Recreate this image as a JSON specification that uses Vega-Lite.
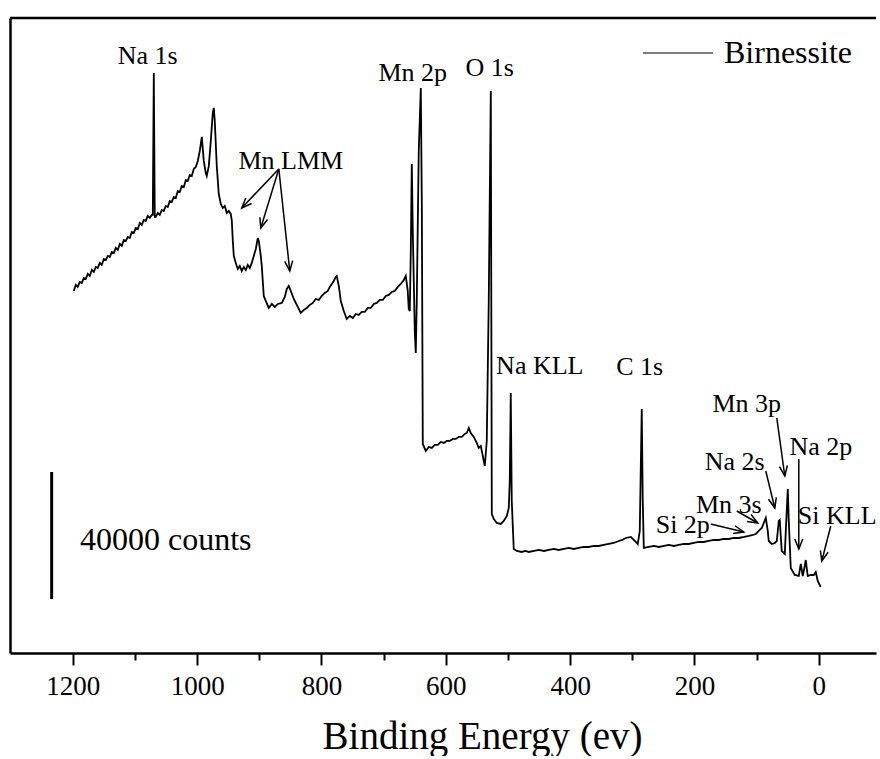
{
  "$schema": "https://vega.github.io/schema/vega-lite/v6.json",
  "width": 866,
  "height": 635,
  "padding": {"left": 8, "top": 16, "right": 0, "bottom": 0},
  "background": "white",
  "config": {"view": {"stroke": null}, "font": "Liberation Serif"},
  "datasets": {
    "spectrum": [
      {"E":1198.4,"c":114030},{"E":1195.2,"c":115920},{"E":1192.0,"c":115290},{"E":1188.7,"c":116865},{"E":1185.5,"c":116550},
      {"E":1182.3,"c":118125},{"E":1179.1,"c":117810},{"E":1175.9,"c":119385},{"E":1172.7,"c":118755},{"E":1169.4,"c":120645},
      {"E":1166.2,"c":120015},{"E":1163.0,"c":121590},{"E":1159.8,"c":121275},{"E":1156.6,"c":122850},{"E":1153.4,"c":122220},
      {"E":1150.1,"c":124110},{"E":1146.9,"c":123795},{"E":1143.7,"c":125055},{"E":1140.5,"c":124740},{"E":1137.3,"c":126315},
      {"E":1134.1,"c":126000},{"E":1130.8,"c":127575},{"E":1127.6,"c":126945},{"E":1124.4,"c":128835},{"E":1121.2,"c":128205},
      {"E":1118.0,"c":130095},{"E":1114.7,"c":129780},{"E":1111.5,"c":131040},{"E":1108.3,"c":130725},{"E":1105.1,"c":132615},
      {"E":1101.9,"c":132300},{"E":1098.7,"c":133875},{"E":1095.4,"c":133560},{"E":1092.2,"c":135450},{"E":1089.0,"c":134820},
      {"E":1085.8,"c":136395},{"E":1082.6,"c":136080},{"E":1079.4,"c":137655},{"E":1076.1,"c":137025},{"E":1072.9,"c":137970},
      {"E":1071.3,"c":137970},{"E":1069.7,"c":182700},{"E":1068.1,"c":137340},{"E":1066.5,"c":137340},{"E":1063.3,"c":138600},
      {"E":1060.1,"c":137970},{"E":1056.8,"c":139545},{"E":1053.6,"c":139230},{"E":1050.4,"c":140805},{"E":1047.2,"c":140490},
      {"E":1044.0,"c":142380},{"E":1040.8,"c":142065},{"E":1037.5,"c":143640},{"E":1034.3,"c":143325},{"E":1031.1,"c":145530},
      {"E":1027.9,"c":145215},{"E":1024.7,"c":147105},{"E":1021.4,"c":146790},{"E":1018.2,"c":148995},{"E":1015.0,"c":148680},
      {"E":1011.8,"c":150570},{"E":1008.6,"c":150255},{"E":1005.4,"c":152460},{"E":1002.2,"c":153090},{"E":998.9,"c":154980},
      {"E":995.7,"c":158130},{"E":992.5,"c":162540},{"E":989.3,"c":154980},{"E":986.1,"c":151200},{"E":984.5,"c":150255},
      {"E":981.2,"c":153405},{"E":978.0,"c":161280},{"E":974.8,"c":170100},{"E":973.2,"c":171675},{"E":971.6,"c":167580},
      {"E":968.4,"c":153405},{"E":965.2,"c":144585},{"E":961.9,"c":141435},{"E":958.7,"c":140175},{"E":955.5,"c":140805},
      {"E":952.3,"c":138600},{"E":949.1,"c":139230},{"E":945.9,"c":138285},{"E":944.2,"c":136080},{"E":942.6,"c":129780},
      {"E":941.0,"c":125055},{"E":937.8,"c":122850},{"E":934.6,"c":120960},{"E":931.4,"c":121905},{"E":928.2,"c":120330},
      {"E":924.9,"c":121590},{"E":921.7,"c":120645},{"E":918.5,"c":122220},{"E":915.3,"c":121275},{"E":912.1,"c":122850},
      {"E":908.9,"c":125055},{"E":905.6,"c":127260},{"E":902.4,"c":130725},{"E":900.8,"c":129780},{"E":897.6,"c":125055},
      {"E":896.0,"c":121905},{"E":892.8,"c":112455},{"E":889.6,"c":110880},{"E":884.7,"c":108675},{"E":879.9,"c":109935},
      {"E":875.1,"c":108990},{"E":870.3,"c":109935},{"E":863.8,"c":110250},{"E":859.0,"c":112140},{"E":855.8,"c":114660},
      {"E":852.6,"c":115605},{"E":849.3,"c":114030},{"E":844.5,"c":111510},{"E":841.3,"c":110250},{"E":836.5,"c":108360},
      {"E":833.3,"c":107100},{"E":828.4,"c":108045},{"E":823.6,"c":108675},{"E":818.8,"c":109620},{"E":814.0,"c":110250},
      {"E":809.1,"c":111510},{"E":804.3,"c":111195},{"E":799.5,"c":112455},{"E":794.7,"c":113400},{"E":789.8,"c":114030},
      {"E":786.6,"c":115290},{"E":783.4,"c":116235},{"E":780.2,"c":117180},{"E":777.0,"c":118440},{"E":775.4,"c":118755},
      {"E":772.1,"c":115605},{"E":768.9,"c":110880},{"E":764.1,"c":107730},{"E":759.3,"c":105210},{"E":754.4,"c":106155},
      {"E":749.6,"c":105525},{"E":744.8,"c":106785},{"E":740.0,"c":106470},{"E":735.1,"c":107415},{"E":730.3,"c":107415},
      {"E":725.5,"c":108675},{"E":720.7,"c":108675},{"E":715.8,"c":109935},{"E":711.0,"c":110250},{"E":706.2,"c":111195},
      {"E":701.4,"c":111195},{"E":696.5,"c":112455},{"E":691.7,"c":112770},{"E":686.9,"c":113715},{"E":682.1,"c":114030},
      {"E":677.2,"c":115290},{"E":672.4,"c":116235},{"E":667.6,"c":117495},{"E":664.4,"c":118755},{"E":661.2,"c":114030},
      {"E":659.6,"c":108360},{"E":657.9,"c":107730},{"E":656.3,"c":126630},{"E":654.7,"c":154035},{"E":653.1,"c":132930},
      {"E":649.9,"c":101430},{"E":648.3,"c":94500},{"E":646.7,"c":110880},{"E":643.5,"c":158130},{"E":640.2,"c":177975},
      {"E":638.6,"c":142380},{"E":637.0,"c":65835},{"E":632.2,"c":63630},{"E":627.4,"c":64890},{"E":622.5,"c":64575},
      {"E":617.7,"c":65520},{"E":612.9,"c":65520},{"E":608.1,"c":66465},{"E":603.2,"c":66150},{"E":598.4,"c":66780},
      {"E":593.6,"c":66780},{"E":588.8,"c":67410},{"E":583.9,"c":67410},{"E":579.1,"c":68040},{"E":574.3,"c":68040},
      {"E":569.5,"c":68985},{"E":566.3,"c":69300},{"E":563.0,"c":70875},{"E":559.8,"c":69300},{"E":555.0,"c":68040},
      {"E":550.2,"c":66150},{"E":547.0,"c":64575},{"E":543.7,"c":65205},{"E":540.5,"c":62055},{"E":537.3,"c":58905},
      {"E":534.1,"c":66780},{"E":530.9,"c":110880},{"E":527.6,"c":177030},{"E":526.0,"c":43785},{"E":522.8,"c":42210},
      {"E":518.0,"c":40950},{"E":511.6,"c":40635},{"E":506.7,"c":41580},{"E":501.9,"c":43155},{"E":498.7,"c":45675},
      {"E":497.1,"c":54180},{"E":495.5,"c":81900},{"E":493.9,"c":47880},{"E":490.7,"c":32760},{"E":485.8,"c":32130},
      {"E":477.8,"c":31815},{"E":472.0,"c":32130},{"E":466.5,"c":31815},{"E":458.0,"c":32130},{"E":450.4,"c":32445},
      {"E":442.0,"c":32130},{"E":434.4,"c":32445},{"E":426.0,"c":32760},{"E":418.3,"c":32445},{"E":410.0,"c":32760},
      {"E":402.2,"c":33075},{"E":394.0,"c":32760},{"E":386.1,"c":33075},{"E":378.0,"c":33390},{"E":370.0,"c":33390},
      {"E":362.0,"c":33705},{"E":353.9,"c":33705},{"E":346.0,"c":34020},{"E":337.8,"c":34335},{"E":330.0,"c":34650},
      {"E":321.7,"c":35280},{"E":316.0,"c":35595},{"E":310.5,"c":36225},{"E":302.4,"c":36540},{"E":296.0,"c":35280},
      {"E":291.2,"c":34335},{"E":288.0,"c":38430},{"E":284.8,"c":76860},{"E":283.2,"c":47880},{"E":281.5,"c":33075},
      {"E":273.5,"c":33390},{"E":265.0,"c":33705},{"E":257.4,"c":33390},{"E":249.0,"c":33705},{"E":241.3,"c":34020},
      {"E":233.0,"c":33705},{"E":225.2,"c":34020},{"E":217.0,"c":34335},{"E":209.2,"c":34335},{"E":201.0,"c":34650},
      {"E":193.1,"c":34965},{"E":185.0,"c":34965},{"E":177.0,"c":35280},{"E":169.0,"c":35595},{"E":160.9,"c":35595},
      {"E":153.0,"c":35910},{"E":144.8,"c":35910},{"E":137.0,"c":36225},{"E":128.7,"c":36225},{"E":120.0,"c":36540},
      {"E":112.6,"c":36855},{"E":106.0,"c":37170},{"E":101.4,"c":37485},{"E":96.6,"c":38430},{"E":91.7,"c":39375},
      {"E":85.3,"c":42525},{"E":82.1,"c":38430},{"E":80.5,"c":35280},{"E":75.7,"c":34335},{"E":70.8,"c":34650},
      {"E":67.6,"c":35280},{"E":64.4,"c":41580},{"E":62.8,"c":41895},{"E":61.2,"c":36855},{"E":59.6,"c":32130},
      {"E":54.7,"c":31185},{"E":53.1,"c":38430},{"E":49.9,"c":51660},{"E":48.3,"c":41580},{"E":45.1,"c":26775},
      {"E":38.7,"c":24570},{"E":32.2,"c":24255},{"E":29.0,"c":28035},{"E":25.8,"c":24255},{"E":22.6,"c":27405},
      {"E":21.0,"c":29295},{"E":17.8,"c":24255},{"E":12.9,"c":24570},{"E":8.1,"c":24570},{"E":4.9,"c":25515},
      {"E":1.7,"c":22680},{"E":-3.1,"c":20790}
    ],
    "arrows": [
      {"E":868.6,"c":152460,"E2":928.2,"c2":140175},
      {"E":868.6,"c":152460,"E2":897.6,"c2":133875},
      {"E":868.6,"c":152460,"E2":851.0,"c2":120330},
      {"E":67.6,"c":74025,"E2":54.7,"c2":55755},
      {"E":32.2,"c":61110,"E2":32.2,"c2":32760},
      {"E":85.3,"c":57330,"E2":70.8,"c2":45675},
      {"E":132.0,"c":44730,"E2":98.2,"c2":40950},
      {"E":173.8,"c":40635,"E2":120.7,"c2":38115},
      {"E":-19.2,"c":40005,"E2":-4.8,"c2":28980}
    ],
    "labels": [
      {"E":1079.4,"c":188055,"label":"Na 1s"},
      {"E":849.3,"c":154980,"label":"Mn LMM"},
      {"E":653.1,"c":182700,"label":"Mn 2p"},
      {"E":529.3,"c":184275,"label":"O 1s"},
      {"E":448.8,"c":90405,"label":"Na KLL"},
      {"E":288.0,"c":90090,"label":"C 1s"},
      {"E":115.9,"c":78435,"label":"Mn 3p"},
      {"E":135.2,"c":60165,"label":"Na 2s"},
      {"E":-3.2,"c":64890,"label":"Na 2p"},
      {"E":144.8,"c":46620,"label":"Mn 3s"},
      {"E":218.8,"c":40320,"label":"Si 2p"},
      {"E":-29.5,"c":43155,"label":"Si KLL"}
    ],
    "scalebar": [
      {"E":1234,"c":17000,"c2":57000,"label":"40000 counts","Elabel":1050.4,"clabel":35595}
    ],
    "frame": [
      {"top": 200000}
    ]
  },
  "layer": [
    {
      "data": {"name": "spectrum"},
      "mark": {"type": "line", "strokeWidth": 1.8, "interpolate": "linear"},
      "encoding": {
        "x": {
          "field": "E", "type": "quantitative",
          "scale": {"domain": [-92, 1301], "reverse": true, "nice": false, "zero": false},
          "axis": {
            "orient": "bottom",
            "values": [1200, 1100, 1000, 900, 800, 700, 600, 500, 400, 300, 200, 100, 0],
            "format": "d",
            "labelExpr": "datum.value % 200 === 0 ? datum.label : ''",
            "tickSize": {"condition": {"test": "datum.value % 200 === 0", "value": 12}, "value": 7},
            "tickWidth": 2, "tickColor": "black",
            "domainWidth": 2.5, "domainColor": "black",
            "labelFont": "Liberation Serif", "labelFontSize": 27, "labelColor": "black",
            "labelPadding": 8, "labelFlush": false, "labelOverlap": false,
            "grid": false,
            "title": "Binding Energy (ev)",
            "titleFont": "Liberation Serif", "titleFontSize": 39, "titleFontWeight": "normal",
            "titleColor": "black", "titleX": 472, "titleY": 95, "titleAlign": "center",
            "titleBaseline": "alphabetic", "titleAnchor": "middle"
          }
        },
        "y": {
          "field": "c", "type": "quantitative",
          "scale": {"domain": [0, 200000], "nice": false, "zero": false},
          "axis": {"orient": "left", "domain": true, "domainWidth": 2.5, "domainColor": "black", "ticks": false, "labels": false, "title": null, "grid": false}
        },
        "color": {
          "datum": "Birnessite", "type": "nominal",
          "scale": {"range": ["#000000"]},
          "legend": {
            "orient": "none", "legendX": 632, "legendY": -1, "title": null, "padding": 0,
            "symbolType": "stroke", "symbolSize": 4900, "symbolStrokeWidth": 1.2,
            "labelFont": "Liberation Serif", "labelFontSize": 32, "labelColor": "black", "labelOffset": 10
          }
        }
      }
    },
    {
      "data": {"name": "frame"},
      "mark": {"type": "rule", "color": "black", "strokeWidth": 2.5},
      "encoding": {
        "y": {"field": "top", "type": "quantitative"}
      }
    },
    {
      "data": {"name": "arrows"},
      "mark": {"type": "rule", "color": "black", "strokeWidth": 1.5},
      "encoding": {
        "x": {"field": "E", "type": "quantitative"},
        "y": {"field": "c", "type": "quantitative"},
        "x2": {"field": "E2"},
        "y2": {"field": "c2"}
      }
    },
    {
      "data": {"name": "arrows"},
      "transform": [
        {"calculate": "atan2((datum.c - datum.c2) / 315, (datum.E - datum.E2) * 0.6217) * 180 / PI", "as": "angle"}
      ],
      "mark": {"type": "point", "shape": "M-1,-0.4L0,0L-1,0.4", "size": 400, "filled": false, "color": "black", "strokeWidth": 1.5, "opacity": 1},
      "encoding": {
        "x": {"field": "E2", "type": "quantitative"},
        "y": {"field": "c2", "type": "quantitative"},
        "angle": {"field": "angle", "type": "quantitative", "scale": null}
      }
    },
    {
      "data": {"name": "labels"},
      "mark": {"type": "text", "font": "Liberation Serif", "fontSize": 26, "align": "center", "baseline": "middle", "color": "black"},
      "encoding": {
        "x": {"field": "E", "type": "quantitative"},
        "y": {"field": "c", "type": "quantitative"},
        "text": {"field": "label"}
      }
    },
    {
      "data": {"name": "scalebar"},
      "mark": {"type": "text", "font": "Liberation Serif", "fontSize": 32, "align": "center", "baseline": "middle", "color": "black"},
      "encoding": {
        "x": {"field": "Elabel", "type": "quantitative"},
        "y": {"field": "clabel", "type": "quantitative"},
        "text": {"field": "label"}
      }
    },
    {
      "data": {"name": "scalebar"},
      "mark": {"type": "rule", "color": "black", "strokeWidth": 3},
      "encoding": {
        "x": {"field": "E", "type": "quantitative"},
        "y": {"field": "c", "type": "quantitative"},
        "y2": {"field": "c2"}
      }
    }
  ]
}
